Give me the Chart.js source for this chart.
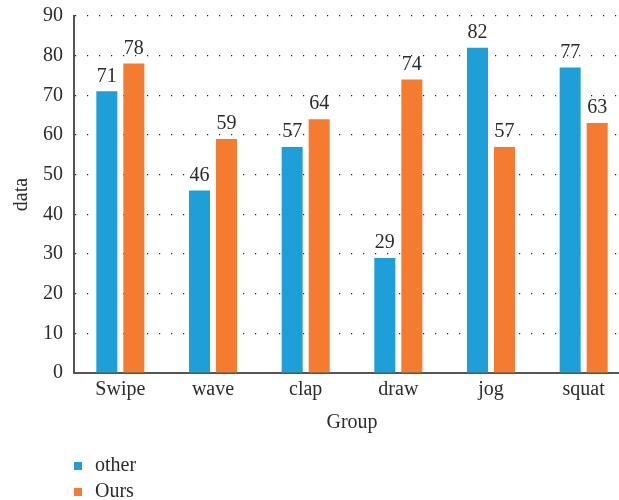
<!DOCTYPE html>
<html>
<head>
<meta charset="utf-8">
<script src="https://cdn.jsdelivr.net/npm/chart.js@4/dist/chart.umd.min.js"></script>
<style>
  html, body { margin: 0; padding: 0; background: #fff; overflow: hidden; }
  #wrap { width: 640px; height: 500px; }
</style>
</head>
<body>
<div id="wrap"><canvas id="c" width="640" height="500"></canvas></div>
<script>
const categories = ['Swipe', 'wave', 'clap', 'draw', 'jog', 'squat'];
const otherValues = [71, 46, 57, 29, 82, 77];
const oursValues = [78, 59, 64, 74, 57, 63];
const yTicks = [0, 10, 20, 30, 40, 50, 60, 70, 80, 90];

const BLUE = '#1e9fd8';
const ORANGE = '#f47b30';
const TEXT = '#2b2b2b';
const FONT = 'Liberation Serif';
const SIZE = 20;

// value labels above every bar
const valueLabels = {
  id: 'valueLabels',
  afterDatasetsDraw(chart) {
    const ctx = chart.ctx;
    ctx.save();
    ctx.font = `${SIZE}px "${FONT}"`;
    ctx.fillStyle = TEXT;
    ctx.textAlign = 'center';
    ctx.textBaseline = 'bottom';
    chart.data.datasets.forEach((ds, i) => {
      chart.getDatasetMeta(i).data.forEach((bar, j) => {
        ctx.fillText(String(ds.data[j]), bar.x, bar.y - 5);
      });
    });
    ctx.restore();
  }
};

// stacked legend in the lower-left corner
const stackedLegend = {
  id: 'stackedLegend',
  afterDraw(chart) {
    const ctx = chart.ctx;
    ctx.save();
    ctx.font = `${SIZE}px "${FONT}"`;
    ctx.textBaseline = 'middle';
    chart.data.datasets.forEach((ds, i) => {
      const cy = 466 + i * 26;
      ctx.fillStyle = ds.backgroundColor;
      ctx.fillRect(74, cy - 4, 8, 8);
      ctx.fillStyle = TEXT;
      ctx.fillText(ds.label, 95, cy);
    });
    ctx.restore();
  }
};

new Chart(document.getElementById('c'), {
  type: 'bar',
  data: {
    labels: categories,
    datasets: [
      { label: 'other', data: otherValues, backgroundColor: BLUE },
      { label: 'Ours', data: oursValues, backgroundColor: ORANGE }
    ]
  },
  options: {
    responsive: false,
    animation: false,
    devicePixelRatio: 1,
    categoryPercentage: 0.583,
    barPercentage: 0.778,
    layout: { padding: { top: 16, right: 10, bottom: 65, left: 0 } },
    plugins: {
      legend: { display: false },
      tooltip: { enabled: false }
    },
    scales: {
      x: {
        grid: { display: false, drawTicks: false },
        border: { display: true, color: '#555', width: 2 },
        ticks: { color: TEXT, padding: 5, font: { family: FONT, size: SIZE } },
        title: { display: true, text: 'Group', color: TEXT, padding: { top: 4, bottom: 0 }, font: { family: FONT, size: SIZE } },
        afterFit(scale) { scale.height = 62; scale.paddingLeft = 0; scale.paddingRight = 0; }
      },
      y: {
        min: 0,
        max: 90,
        afterBuildTicks(scale) { scale.ticks = yTicks.map(v => ({ value: v })); },
        grid: { color: '#222', lineWidth: 1.2, drawTicks: false },
        border: { display: true, color: '#555', width: 2, dash: [1.2, 10.8] },
        ticks: { color: TEXT, padding: 11, font: { family: FONT, size: SIZE } },
        title: { display: true, text: 'data', color: TEXT, padding: { top: 10, bottom: 0 }, font: { family: FONT, size: SIZE } },
        afterFit(scale) { scale.width = 74; scale.paddingTop = 0; scale.paddingBottom = 0; }
      }
    }
  },
  plugins: [valueLabels, stackedLegend]
});
</script>
</body>
</html>
